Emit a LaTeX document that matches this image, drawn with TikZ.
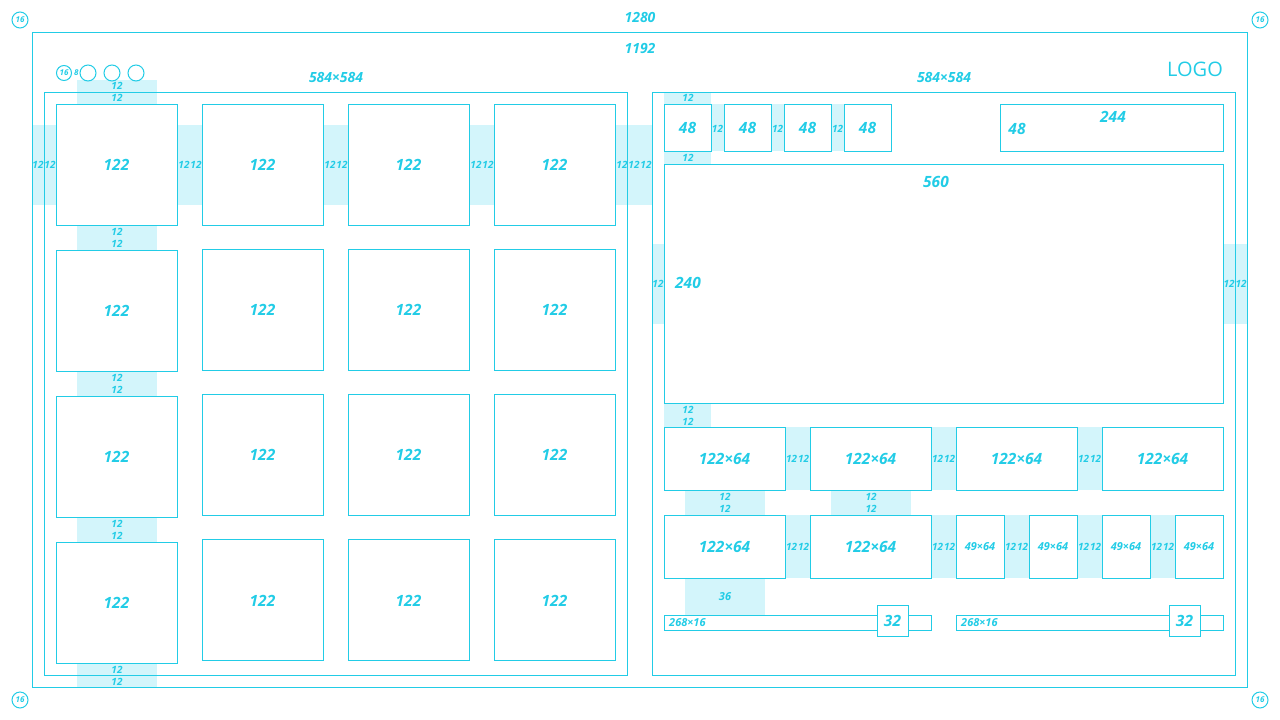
\documentclass[tikz,border=0pt]{standalone}
\usepackage{fontspec}
\setmainfont{Open Sans}
\usetikzlibrary{positioning,shapes}
\definecolor{linecyan}{HTML}{22CCE6}
\definecolor{gapcyan}{HTML}{D3F5FB}
\newcommand\tileFont{\fontsize{15.5}{15.5}\selectfont\bfseries\itshape}
\newcommand\titleFont{\fontsize{14}{14}\selectfont\bfseries\itshape}
\newcommand\midFont{\fontsize{11}{11}\selectfont\bfseries\itshape}
\newcommand\dimFont{\fontsize{10}{10}\selectfont\bfseries\itshape}
\newcommand\tinyFont{\fontsize{8}{8}\selectfont\bfseries\itshape}
\newcommand\logoFont{\fontsize{20}{20}\selectfont}
\tikzstyle{LINE}=[draw=linecyan, line width=1pt]
\tikzstyle{layer}=[rectangle, LINE, inner sep=0pt, outer sep=0pt, anchor=north west]
\tikzstyle{tile}=[layer, text=linecyan, font=\tileFont]
\tikzstyle{small_tile}=[layer, text=linecyan, font=\midFont]
\tikzstyle{GAP_COLOR}=[rectangle, fill=gapcyan, inner sep=0pt, outer sep=0pt, anchor=north west]
\tikzstyle{dim}=[text=linecyan, font=\dimFont, inner sep=0pt]
\tikzstyle{title}=[text=linecyan, font=\titleFont, inner sep=0pt]
\tikzstyle{dot}=[circle, LINE, minimum size=16pt, inner sep=0pt, text=linecyan, font=\tinyFont]
\begin{document}
\begin{tikzpicture}[x=1pt, y=-1pt]
      \useasboundingbox (0,0) rectangle (1280,720);

      %%%%%%%%%%%%%%%%%%%%%%%%%%%%%%%%%%%%%%%%%%
      % SPACINGS
      %%%%%%%%%%%%%%%%%%%%%%%%%%%%%%%%%%%%%%%%%%
      \foreach \x/\y/\w/\h [count=\i] in {77/80/80/24, 77/225/80/25, 77/371/80/25, 77/517/80/25,
            77/663/80/24, 32/125/24/80, 177/125/25/80, 323/125/25/80, 469/125/25/80, 615/125/37/80,
            664/92/47/12, 664/151/47/13, 711/104/13/47, 771/104/13/47, 831/104/13/47,
            652/244/12/80, 1223/244/24/80, 664/403/47/24,
            785/427/25/63, 931/427/25/63, 1077/427/25/63, 685/490/80/25, 831/490/80/25,
            785/515/25/63, 931/515/25/63, 1004/515/25/63, 1077/515/25/63, 1150/515/25/63,
            685/578/80/37}
            \node[GAP_COLOR, minimum width=\w pt, minimum height=\h pt] (gap\i) at (\x,\y) {};

      %%%%%%%%%%%%%%%%%%%%%%%%%%%%%%%%%%%%%%%%%%
      % FRAMES
      %%%%%%%%%%%%%%%%%%%%%%%%%%%%%%%%%%%%%%%%%%
      \node[layer, minimum width=1215pt, minimum height=655pt] (page) at (32,32) {};
      \node[layer, minimum width=583pt, minimum height=583pt] (left) at (44,92) {};
      \node[layer, minimum width=583pt, minimum height=583pt] (right) at (652,92) {};

      \node[title] (W) at (640,17) {1280};
      \node[title] (C) at (640,48) {1192};
      \node[title] (LT) at (336,77) {584×584};
      \node[title] (RT) at (944,77) {584×584};
      \node[text=linecyan, font=\logoFont, inner sep=0pt] (logo) at (1195,69) {LOGO};
      \foreach \x/\y [count=\i] in {20/20, 1260/20, 20/700, 1260/700}
            \node[dot] (m\i) at (\x,\y) {16};

      \node[dot, minimum size=15pt] (pad) at (64,73) {16};
      \node[text=linecyan, font=\tinyFont, inner sep=0pt, right=2pt of pad] (eight) {8};
      \foreach \x [count=\i] in {88,112,136}
            \node[circle, LINE, minimum size=16pt, inner sep=0pt] (btn\i) at (\x,73) {};

      %%%%%%%%%%%%%%%%%%%%%%%%%%%%%%%%%%%%%%%%%%
      % LEFT GRID
      %%%%%%%%%%%%%%%%%%%%%%%%%%%%%%%%%%%%%%%%%%
      \foreach \r in {0,...,3}
            \node[tile, minimum size=121pt] (T1-\r) at (56,104+146*\r) {122};
      \foreach \c in {1,2,3}
            \foreach \r in {0,...,3}
                  \node[tile, minimum size=121pt] (T\c-\r) at (56+146*\c,104+145.33*\r) {122};

      %%%%%%%%%%%%%%%%%%%%%%%%%%%%%%%%%%%%%%%%%%
      % RIGHT PANEL
      %%%%%%%%%%%%%%%%%%%%%%%%%%%%%%%%%%%%%%%%%%
      \foreach \x [count=\i] in {664,724,784,844}
            \node[tile, minimum size=47pt] (I\i) at (\x,104) {48};
      \node[layer, minimum width=223pt, minimum height=47pt] (search) at (1000,104) {};
      \node[layer, minimum width=559pt, minimum height=239pt] (banner) at (664,164) {};
      \foreach \x [count=\i] in {664,810,956,1102}
            \node[tile, minimum width=121pt, minimum height=63pt] (A\i) at (\x,427) {122×64};
      \foreach \x [count=\i] in {664,810}
            \node[tile, minimum width=121pt, minimum height=63pt] (B\i) at (\x,515) {122×64};
      \foreach \x [count=\i] in {956,1029,1102,1175}
            \node[small_tile, minimum width=48pt, minimum height=63pt] (S\i) at (\x,515) {49×64};
      \foreach \x [count=\i] in {664,956}
            \node[layer, minimum width=267pt, minimum height=15pt] (bar\i) at (\x,615) {};
      \foreach \x [count=\i] in {877,1169}
            \node[tile, fill=white, minimum size=31pt] (knob\i) at (\x,605) {32};
      \node[text=linecyan, font=\midFont, inner sep=0pt, anchor=west] (barL1) at (669,623) {268×16};
      \node[text=linecyan, font=\midFont, inner sep=0pt, anchor=west] (barL2) at (961,623) {268×16};

      \node[title, font=\tileFont] (sw) at (1113,117) {244};
      \node[title, font=\tileFont] (sh) at (1017,129) {48};
      \node[title, font=\tileFont] (bw) at (936,182) {560};
      \node[title, font=\tileFont] (bh) at (688,283) {240};
      \node[title, font=\midFont] (g36) at (725,597) {36};

      % spacing labels
      \foreach \x/\y [count=\i] in {117/86, 117/98, 117/232, 117/244, 117/378, 117/390, 117/524, 117/536,
            117/670, 117/682, 38/165, 50/165, 184/165, 196/165, 330/165, 342/165, 476/165, 488/165,
            622/165, 634/165, 646/165, 688/98, 688/158, 717.5/129, 777.5/129, 837.5/129,
            658/284, 1229/284, 1241/284, 688/410, 688/422, 725/497, 725/509, 871/497, 871/509,
            791.5/459, 803.5/459, 937.5/459, 949.5/459, 1083.5/459, 1095.5/459,
            791.5/547, 803.5/547, 937.5/547, 949.5/547, 1010.5/547, 1022.5/547,
            1083.5/547, 1095.5/547, 1156.5/547, 1168.5/547}
            \node[dim] (d\i) at (\x,\y) {12};

\end{tikzpicture}
\end{document}
